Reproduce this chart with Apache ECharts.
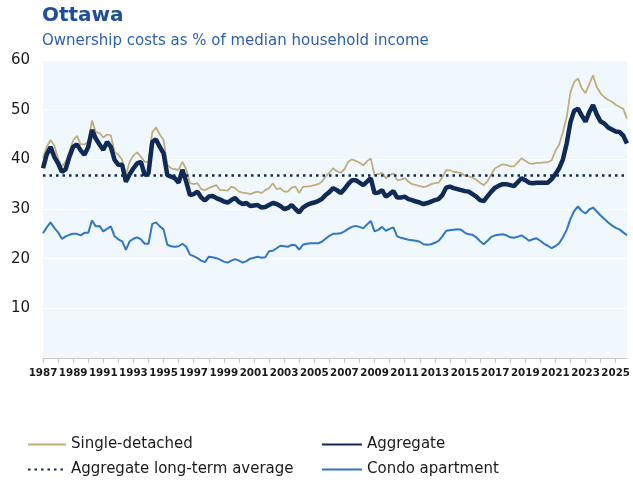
<!DOCTYPE html>
<html>
<head>
<meta charset="utf-8">
<script src="https://cdn.jsdelivr.net/npm/echarts@6/dist/echarts.min.js"></script>
<style>
html,body{margin:0;padding:0;background:#fff;overflow:hidden;}
#c{width:633px;height:484px;}
</style>
</head>
<body>
<div id="c"></div>
<script>
// Quarterly categories 1987Q1 .. 2025Q4
var YEARS = [];
for (var y = 1987; y <= 2025; y++) YEARS.push(y);
var QUARTERS = [];
YEARS.forEach(function (yr) { ['Q1','Q2','Q3','Q4'].forEach(function (q) { QUARTERS.push(yr + q); }); });

var AGGREGATE_AVG = 36.7;

var singleDetached = [
 40.2,42.5,43.9,42.8, 40.2,38.5,39.5,41.5, 43.8,44.7,43.0,43.0, 43.5,47.8,45.5,45.3,
 44.4,45.0,44.8,41.5, 40.9,39.9,36.8,39.5, 40.8,41.4,40.5,39.5, 39.5,45.5,46.4,45.0,
 43.9,38.9,38.2,38.0, 37.9,39.5,38.0,35.2, 35.0,35.2,34.0,33.8, 34.2,34.5,34.8,33.8,
 33.8,33.7,34.5,34.2, 33.5,33.3,33.2,33.0, 33.3,33.5,33.2,33.8, 34.2,35.2,34.0,34.2,
 33.5,33.5,34.3,34.5, 33.2,34.5,34.5,34.6, 34.8,35.0,35.5,36.5, 37.3,38.2,37.6,37.3,
 38.0,39.5,40.0,39.7, 39.3,38.8,39.6,40.2, 36.8,37.0,37.3,36.2, 36.8,37.2,35.8,35.9,
 36.2,35.5,35.0,34.8, 34.6,34.4,34.6,35.0, 35.2,35.3,36.4,37.8, 37.8,37.5,37.4,37.2,
 36.7,36.6,36.3,35.9, 35.3,34.8,35.6,37.0, 38.2,38.6,39.0,38.9, 38.6,38.6,39.4,40.2,
 39.7,39.2,39.1,39.3, 39.3,39.4,39.4,39.8, 41.7,43.0,45.5,48.5, 53.5,55.6,56.3,54.3,
 53.3,55.2,56.9,54.5, 53.3,52.5,52.0,51.6, 51.0,50.6,50.2,48.2
];

var aggregate = [
 38.2,41.0,42.5,40.5, 39.2,37.5,38.0,40.5, 42.5,43.0,41.8,40.9, 42.5,45.9,44.2,43.0,
 41.9,43.5,42.5,39.9, 38.9,38.9,35.5,37.0, 38.2,39.2,39.5,36.8, 37.2,43.5,44.0,42.5,
 41.2,36.8,36.5,36.2, 35.3,37.9,35.5,32.8, 33.0,33.5,32.3,31.7, 32.5,32.6,32.2,31.9,
 31.5,31.3,31.8,32.2, 31.4,31.0,31.2,30.6, 30.7,30.8,30.3,30.4, 30.8,31.2,31.0,30.6,
 30.0,30.2,30.8,30.0, 29.3,30.3,30.8,31.1, 31.3,31.6,32.0,32.8, 33.4,34.2,33.8,33.2,
 34.0,35.0,35.8,35.8, 35.3,34.8,35.5,36.2, 33.2,33.3,33.8,32.5, 33.0,33.6,32.3,32.3,
 32.5,32.0,31.8,31.5, 31.3,31.0,31.2,31.5, 31.8,32.0,32.8,34.3, 34.5,34.2,34.0,33.8,
 33.6,33.5,33.0,32.5, 31.8,31.6,32.6,33.5, 34.3,34.7,35.0,35.0, 34.8,34.6,35.4,36.2,
 35.8,35.3,35.2,35.3, 35.3,35.3,35.3,36.0, 37.0,38.2,40.0,43.2, 47.5,49.8,50.2,48.8,
 47.6,49.5,50.9,49.0, 47.6,47.2,46.4,46.0, 45.6,45.5,44.8,43.2
];

var condo = [
 25.1,26.3,27.3,26.2, 25.3,24.0,24.5,24.8, 25.0,25.0,24.7,25.2, 25.2,27.7,26.5,26.6,
 25.5,26.0,26.5,24.5, 23.9,23.5,21.8,23.5, 24.0,24.3,23.9,23.0, 23.0,27.0,27.3,26.5,
 25.9,22.8,22.5,22.4, 22.5,23.0,22.4,20.8, 20.5,20.1,19.6,19.3, 20.4,20.3,20.1,19.8,
 19.4,19.2,19.6,19.9, 19.6,19.2,19.5,20.0, 20.2,20.4,20.2,20.3, 21.5,21.6,22.1,22.6,
 22.5,22.4,22.8,22.7, 21.8,22.8,23.0,23.1, 23.1,23.1,23.4,24.0, 24.6,25.0,25.0,25.1,
 25.5,26.0,26.4,26.6, 26.4,26.1,26.9,27.6, 25.5,25.8,26.4,25.6, 26.0,26.3,24.5,24.2,
 24.0,23.8,23.7,23.6, 23.4,22.9,22.8,22.9, 23.2,23.6,24.5,25.6, 25.7,25.8,25.9,25.8,
 25.2,24.9,24.8,24.3, 23.5,22.9,23.6,24.4, 24.7,24.8,24.9,24.7, 24.3,24.2,24.4,24.7,
 24.2,23.6,23.9,24.1, 23.6,23.0,22.6,22.1, 22.5,23.1,24.3,25.8, 28.0,29.6,30.5,29.6,
 29.1,29.9,30.3,29.5, 28.7,28.0,27.3,26.7, 26.2,25.9,25.3,24.7
];

var Y_TICKS = [0, 10, 20, 30, 40, 50, 60];

var FONT = '"DejaVu Sans", Verdana, sans-serif';
var C_SD = '#bfae7c', C_AGG = '#0f2a55', C_CONDO = '#3276c6';

var chart = echarts.init(document.getElementById('c'), null, {renderer: 'canvas'});
chart.setOption({
  animation: false,
  backgroundColor: '#ffffff',
  title: [
    {text: 'Ottawa', left: 42, top: 6, padding: 0, textStyle: {fontFamily: FONT, fontWeight: 'bold', fontSize: 20, color: '#1f4f9c'}},
    {text: 'Ownership costs as % of median household income', left: 42, top: 34, padding: 0, textStyle: {fontFamily: FONT, fontWeight: 'normal', fontSize: 15, color: '#2c5fb3'}}
  ],
  grid: {left: 43, right: 0, top: 60, bottom: 126, show: true, backgroundColor: '#f0f8fe', borderWidth: 0},
  legend: [
    {left: 27, top: 437, padding: 0, orient: 'vertical', itemWidth: 38, itemHeight: 12, itemGap: 10,
     itemStyle: {opacity: 0},
     textStyle: {fontFamily: FONT, fontSize: 15, color: '#1a1a1a'},
     data: ['Single-detached', 'Aggregate long-term average']},
    {left: 321, top: 437, padding: 0, orient: 'vertical', itemWidth: 40, itemHeight: 12, itemGap: 10,
     itemStyle: {opacity: 0},
     textStyle: {fontFamily: FONT, fontSize: 15, color: '#1a1a1a'},
     data: ['Aggregate', 'Condo apartment']}
  ],
  xAxis: {
    type: 'category', data: QUARTERS, boundaryGap: false,
    axisLine: {lineStyle: {color: '#c8c8c8', width: 1}},
    axisTick: {show: true, length: 5, lineStyle: {color: '#c8c8c8'}, interval: function (i) { return i % 4 === 0; }},
    axisLabel: {interval: function (i) { return i % 8 === 0; }, formatter: function (v) { return v.slice(0, 4); },
      showMinLabel: true, showMaxLabel: true, hideOverlap: false,
      fontFamily: FONT, fontSize: 10.3, fontWeight: 'bold', color: '#1a1a1a', margin: 10},
    splitLine: {show: false}
  },
  yAxis: {
    type: 'value', min: Y_TICKS[0], max: Y_TICKS[Y_TICKS.length - 1], interval: 10,
    axisLine: {show: false}, axisTick: {show: false},
    axisLabel: {formatter: function (v) { return v === 0 ? '' : String(v); }, fontFamily: FONT, fontSize: 15, color: '#1a1a1a', margin: 13},
    splitLine: {lineStyle: {color: '#ffffff', width: 1}}
  },
  series: [
    {name: 'Single-detached', type: 'line', data: singleDetached, symbol: 'none', z: 2,
     lineStyle: {color: C_SD, width: 1.8}, itemStyle: {color: C_SD}},
    {name: 'Aggregate long-term average', type: 'line', data: [], symbol: 'none', z: 3,
     lineStyle: {color: C_AGG, width: 2.5, type: [2.5, 4]}, itemStyle: {color: C_AGG},
     markLine: {silent: true, symbol: 'none', label: {show: false},
       lineStyle: {color: C_AGG, width: 2.5, type: [2.5, 4]},
       data: [{yAxis: AGGREGATE_AVG}]}},
    {name: 'Aggregate', type: 'line', data: aggregate, symbol: 'none', z: 4,
     lineStyle: {color: C_AGG, width: 4.5}, itemStyle: {color: C_AGG}},
    {name: 'Condo apartment', type: 'line', data: condo, symbol: 'none', z: 2,
     lineStyle: {color: C_CONDO, width: 2}, itemStyle: {color: C_CONDO}}
  ]
});
</script>
</body>
</html>
